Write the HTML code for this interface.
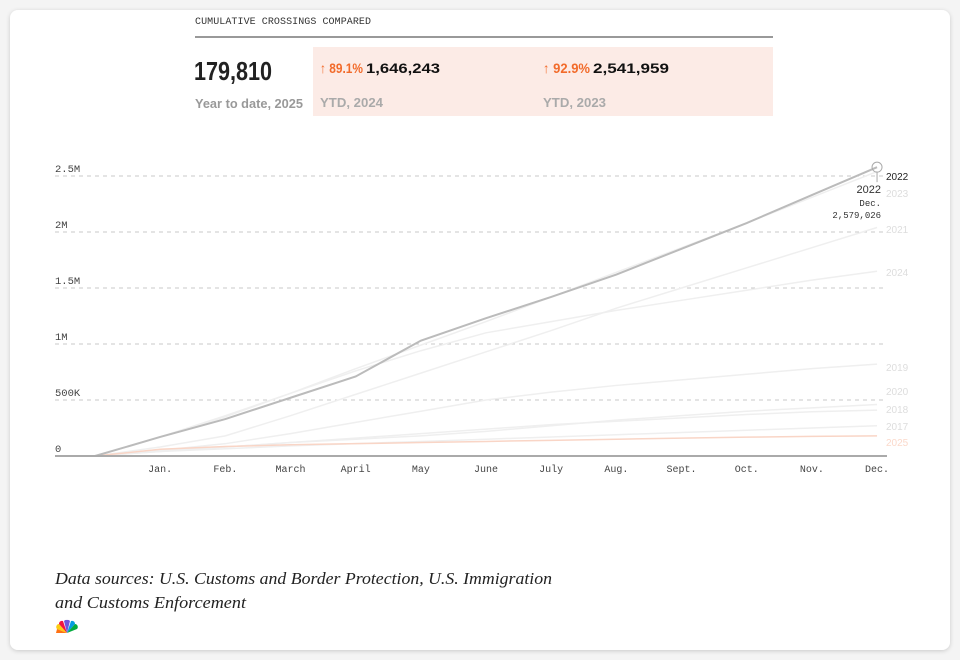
<!DOCTYPE html>
<html><head><meta charset="utf-8"><style>
html,body{margin:0;padding:0;background:#f4f4f4;width:960px;height:660px;overflow:hidden}
svg{display:block}
.mono{font-family:"Liberation Mono",monospace}
.sans{font-family:"Liberation Sans",sans-serif}
.serif{font-family:"Liberation Serif",serif}
</style></head><body>
<svg id="chart" width="960" height="660" viewBox="0 0 960 660">
<defs><filter id="sh" x="-5%" y="-5%" width="110%" height="110%"><feDropShadow dx="0" dy="1" stdDeviation="2" flood-color="#000" flood-opacity="0.18"/></filter></defs>
<rect x="10" y="10" width="940" height="640" rx="8" fill="#fff" filter="url(#sh)"/>
<text x="195" y="24" class="mono" font-size="10" fill="#333" textLength="176">CUMULATIVE CROSSINGS COMPARED</text>
<rect x="195" y="36" width="578" height="2" fill="#999"/>
<text x="194" y="80" class="sans" font-size="26" font-weight="bold" fill="#222" textLength="78" lengthAdjust="spacingAndGlyphs">179,810</text>
<text x="195" y="108" class="sans" font-size="13" font-weight="bold" fill="#999" textLength="108" lengthAdjust="spacingAndGlyphs">Year to date, 2025</text>
<rect x="313" y="47" width="460" height="69" fill="#fcebe6"/>
<text y="73" class="sans" font-size="14" font-weight="bold"><tspan x="320" fill="#f26b2b" textLength="43" lengthAdjust="spacingAndGlyphs">↑ 89.1%</tspan><tspan x="366" fill="#111" textLength="74" lengthAdjust="spacingAndGlyphs">1,646,243</tspan></text>
<text x="320" y="107" class="sans" font-size="13" font-weight="bold" fill="#aaa" textLength="63" lengthAdjust="spacingAndGlyphs">YTD, 2024</text>
<text y="73" class="sans" font-size="14" font-weight="bold"><tspan x="543" fill="#f26b2b" textLength="47" lengthAdjust="spacingAndGlyphs">↑ 92.9%</tspan><tspan x="593" fill="#111" textLength="76" lengthAdjust="spacingAndGlyphs">2,541,959</tspan></text>
<text x="543" y="107" class="sans" font-size="13" font-weight="bold" fill="#aaa" textLength="63" lengthAdjust="spacingAndGlyphs">YTD, 2023</text>
<g id="plot"></g>
<text x="55" y="584" class="serif" font-size="17" font-style="italic" fill="#222" textLength="497" lengthAdjust="spacingAndGlyphs">Data sources: U.S. Customs and Border Protection, U.S. Immigration</text>
<text x="55" y="608" class="serif" font-size="17" font-style="italic" fill="#222" textLength="191" lengthAdjust="spacingAndGlyphs">and Customs Enforcement</text>
<g transform="translate(67,633)">
<path d="M0 0 L-10 -4 A3 3 0 0 1 -8 -9 Z" fill="#fccc12"/>
<path d="M0 0 L-8 -9 A3 3 0 0 1 -4 -12 Z" fill="#ef1541"/>
<path d="M0 0 L-3 -12 A3 3 0 0 1 0 -13 A3 3 0 0 1 3 -12 Z" fill="#6e55dc"/>
<path d="M0 0 L4 -12 A3 3 0 0 1 8 -9 Z" fill="#069de0"/>
<path d="M0 0 L8 -9 A3 3 0 0 1 10 -4 Z" fill="#05ac3f"/>
<path d="M0 0 L-11 0 L-10 -4 Z" fill="#ff7112"/>
</g>
</svg>
<script>
const months=["Jan.","Feb.","March","April","May","June","July","Aug.","Sept.","Oct.","Nov.","Dec."];
const yTicks=[0,500000,1000000,1500000,2000000,2500000];
const yTickLabels=["0","500K","1M","1.5M","2M","2.5M"];
const seriesNames=["2017","2018","2019","2020","2021","2023","2024","2025","2022"];
const s2017=[0,40000,65000,90000,110000,130000,150000,170000,190000,210000,230000,250000,270000];
const s2018=[0,45000,80000,120000,160000,200000,240000,280000,310000,340000,370000,395000,410000];
const s2019=[0,50000,110000,200000,300000,400000,500000,570000,630000,680000,730000,780000,820000];
const s2020=[0,40000,80000,120000,150000,180000,220000,270000,320000,360000,400000,430000,460000];
const s2021=[0,80000,180000,360000,550000,740000,930000,1120000,1320000,1500000,1680000,1860000,2040000];
const s2023=[0,170000,350000,560000,780000,990000,1200000,1420000,1640000,1860000,2080000,2310000,2540000];
const s2024=[0,170000,360000,560000,760000,940000,1100000,1200000,1300000,1390000,1480000,1570000,1650000];
const s2025=[0,60000,85000,100000,110000,120000,130000,140000,150000,160000,168000,175000,180000];
const s2022=[0,170000,330000,520000,710000,1030000,1230000,1420000,1620000,1850000,2080000,2330000,2579026];
const labelY={"2017":426,"2018":409,"2019":367,"2020":391,"2021":229,"2023":193,"2024":272,"2025":442,"2022":176};
const allSeries=[s2017,s2018,s2019,s2020,s2021,s2023,s2024,s2025,s2022];
const NS="http://www.w3.org/2000/svg";
const x=i=>95+i*65.17, y=v=>456-v*112/1000000;
const g=document.getElementById('plot');
function mk(t,a){const e=document.createElementNS(NS,t);for(const k in a)e.setAttribute(k,a[k]);g.appendChild(e);return e;}
yTicks.forEach((t,i)=>{
 if(i>0){const l=mk('line',{x1:55,x2:887,y1:y(t),y2:y(t),stroke:'#c8c8c8','stroke-dasharray':'4,4','stroke-width':1});
 
 }
 const tx=mk('text',{x:55,y:y(t)-4,'font-size':10.5,fill:'#444',class:'mono'});tx.textContent=yTickLabels[i];
 
 
});
months.forEach((m,i)=>{const tx=mk('text',{x:x(i+1),y:472,'font-size':10,fill:'#444',class:'mono','text-anchor':'middle'});tx.textContent=m;
 
 });
allSeries.forEach((s,k)=>{
 const n=seriesNames[k];const is22=n==="2022",is25=n==="2025";
 const col=is22?'#bbb':is25?'#f9d5c6':'#efefef';
 const p=mk('polyline',{points:s.map((v,i)=>x(i)+','+y(v)).join(' '),fill:'none',stroke:col,'stroke-width':is22?2:1.5});
 
 
 const tx=mk('text',{x:886,y:labelY[n]+4,'font-size':10,fill:is22?'#222':is25?'#fbd9cb':'#ddd',class:'sans'});tx.textContent=n;
 
 
});
const ax=mk('line',{x1:55,x2:887,y1:456,y2:456,stroke:'#aaa','stroke-width':2});


const last=s2022[12];
const c=mk('circle',{cx:x(12),cy:y(last),r:5,fill:'none',stroke:'#aaa'});


const tk=mk('line',{x1:x(12),x2:x(12),y1:y(last)+5,y2:y(last)+15,stroke:'#aaa'});


[["2022",193,'sans',11],["Dec.",206,'mono',9],[last.toLocaleString('en-US'),218,'mono',9]].forEach((a,i)=>{
 const t=mk('text',{x:x(12)+4,y:a[1],'text-anchor':'end',class:a[2],'font-size':a[3],fill:'#333'});t.textContent=a[0];
 
 
});
</script>
</body></html>
